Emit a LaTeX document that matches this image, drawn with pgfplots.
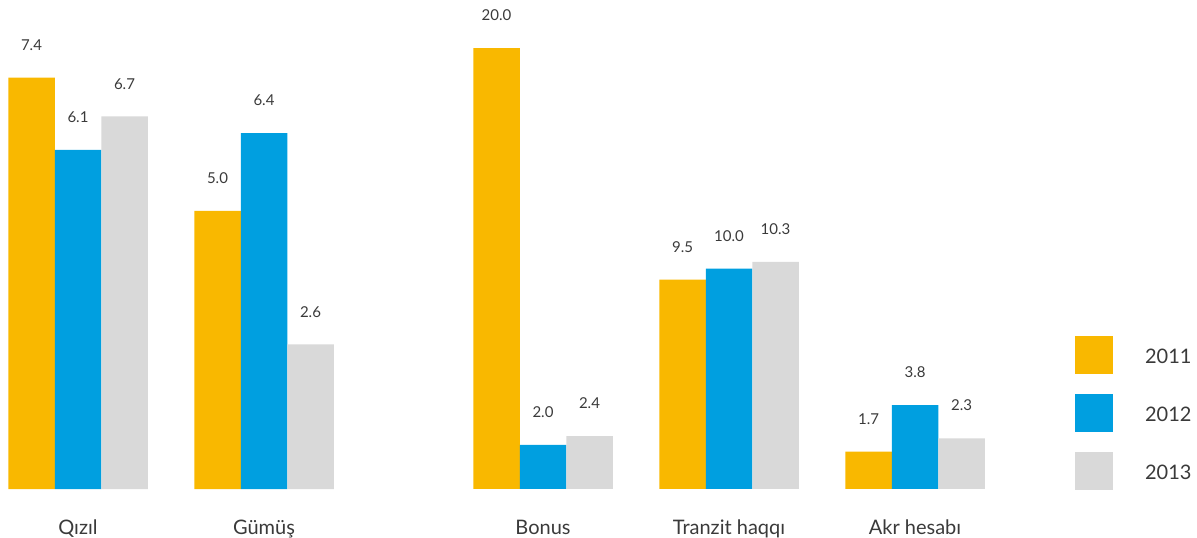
\documentclass[border=0pt]{standalone}
\usepackage{pgfplots}
\pgfplotsset{compat=1.18}
\usepackage{fontspec}
\setmainfont{Lato}

\definecolor{cyellow}{HTML}{F9B800}
\definecolor{cblue}{HTML}{009FE0}
\definecolor{cgrey}{HTML}{D9D9D9}
\definecolor{ctext}{HTML}{3A3A3A}

% 1pt = 1px of the reference; category step = 186pt, first group centre at x=78pt
\pgfplotsset{
  base/.style={
    scale only axis,
    width=1197pt, height=489pt,
    xmin=-0.41935, xmax=6.01613,
    ymin=0,
    ybar=0pt, bar width=46.5pt,
    axis line style={draw=none},
    tick style={draw=none},
    ytick=\empty,
    clip=false,
    nodes near coords,
    nodes near coords style={font=\fontsize{15}{18}\selectfont, text=ctext,
      anchor=south, inner sep=0pt, yshift=27pt,
      /pgf/number format/.cd, fixed, fixed zerofill, precision=1,
      assume math mode=true},
  },
}

\begin{document}
\begin{tikzpicture}
\path[use as bounding box] (0pt,-49pt) rectangle (1197pt,489pt);

% left group: its own scale
\begin{axis}[base,
  ymax=8.795,
  xtick={0,1,2.5,3.5,4.5},
  xticklabels={Qızıl,Gümüş,Bonus,Tranzit haqqı,Akr hesabı},
  xticklabel style={font=\fontsize{20}{24}\selectfont, text=ctext,
    anchor=base, inner sep=0pt, yshift=-41pt},
  legend image code/.code={\fill[#1] (0pt,-17pt) rectangle (38pt,21pt);},
  legend style={draw=none, fill=none, at={(0.8981,0.3129)}, anchor=north west,
    inner sep=0pt, outer sep=0pt, row sep=20pt, column sep=32pt,
    font=\fontsize{20}{24}\selectfont, text=ctext,
    nodes={inner sep=0pt}},
  legend cell align=left,
]
\addplot[fill=cyellow, draw=none] coordinates {(0,7.4) (1,5.0)};
\addlegendentry{2011}
\addplot[fill=cblue, draw=none] coordinates {(0,6.1) (1,6.4)};
\addlegendentry{2012}
\addplot[fill=cgrey, draw=none] coordinates {(0,6.7) (1,2.6)};
\addlegendentry{2013}
\end{axis}

% right group: its own scale
\begin{axis}[base,
  ymax=22.18,
  xtick=\empty,
]
\addplot[fill=cyellow, draw=none] coordinates {(2.5,20.0) (3.5,9.5) (4.5,1.7)};
\addplot[fill=cblue, draw=none] coordinates {(2.5,2.0) (3.5,10.0) (4.5,3.8)};
\addplot[fill=cgrey, draw=none] coordinates {(2.5,2.4) (3.5,10.3) (4.5,2.3)};
\end{axis}
\end{tikzpicture}
\end{document}
